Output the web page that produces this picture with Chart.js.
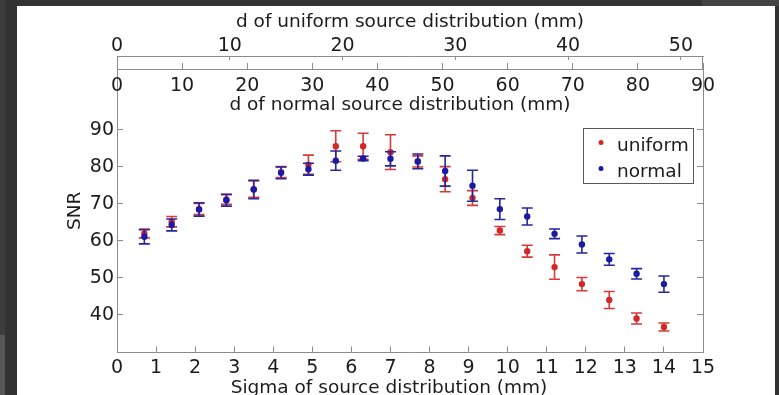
<!DOCTYPE html>
<html>
<head>
<meta charset="utf-8">
<script src="https://cdn.jsdelivr.net/npm/chart.js@4.4.0/dist/chart.umd.min.js"></script>
<style>
  html, body { margin: 0; padding: 0; width: 779px; height: 395px; overflow: hidden; background: #323232; }
  .strip { position: absolute; }
  #frame { position: absolute; left: 17px; top: 6px; width: 758px; height: 389px; background: #fff; }
</style>
</head>
<body>
<div class="strip" style="left:0;top:0;width:5px;height:395px;background:#3c3c3c"></div>
<div class="strip" style="left:0;top:335px;width:5px;height:60px;background:#575757"></div>
<div class="strip" style="left:702px;top:0;width:77px;height:6px;background:#444"></div>
<div id="frame"><canvas id="myChart" width="758" height="389"></canvas></div>
<script>
// sigma of source distribution (mm)
var sigma = [0.7, 1.4, 2.1, 2.8, 3.5, 4.2, 4.9, 5.6, 6.3, 7.0,
             7.7, 8.4, 9.1, 9.8, 10.5, 11.2, 11.9, 12.6, 13.3, 14.0];
var snrUniform = [62.0, 65.2, 68.6, 71.2, 74.0, 78.6, 80.6, 85.6, 85.6, 84.0,
                  81.5, 76.7, 71.6, 62.8, 57.2, 52.9, 48.3, 44.0, 39.0, 36.7];
var errUniform = [1.2, 1.4, 1.5, 1.3, 2.2, 1.5, 2.6, 4.2, 3.5, 4.7,
                  1.5, 3.4, 2.0, 1.1, 1.6, 3.3, 1.8, 2.3, 1.5, 1.1];
var snrNormal = [61.1, 64.3, 68.5, 71.0, 73.9, 78.4, 79.4, 81.7, 82.3, 82.2,
                 81.5, 78.9, 74.9, 68.6, 66.6, 61.9, 59.0, 55.0, 51.1, 48.3];
var errNormal = [1.9, 1.6, 1.8, 1.6, 2.5, 1.6, 1.6, 2.6, 0.6, 1.9,
                 2.0, 4.1, 4.2, 2.8, 2.3, 1.3, 2.3, 1.6, 1.4, 2.2];

var sigmaTicks = [0, 1, 2, 3, 4, 5, 6, 7, 8, 9, 10, 11, 12, 13, 14, 15];
var snrTicks = [40, 50, 60, 70, 80, 90];
var uniformTicks = [0, 10, 20, 30, 40, 50];
var normalTicks = [0, 10, 20, 30, 40, 50, 60, 70, 80, 90];

var axisGray = '#8c8c8c';
var textColor = '#1c1c1c';
var tickFont = { family: 'DejaVu Sans', size: 19, lineHeight: 1.2 };
var titleFont = { family: 'DejaVu Sans', size: 18.5, lineHeight: 1.2 };

function toPoints(ys) {
    return sigma.map(function (s, i) { return { x: s, y: ys[i] }; });
}
function fixTicks(list) {
    return function (scale) { scale.ticks = list.map(function (v) { return { value: v }; }); };
}

// error bars drawn just before each dataset's points
var errorBars = {
    id: 'errorBars',
    beforeDatasetDraw: function (chart, args) {
        var ds = chart.data.datasets[args.index];
        var xs = chart.scales.x, ys = chart.scales.y, ctx = chart.ctx;
        ctx.save();
        ctx.strokeStyle = ds.errorColor;
        ctx.lineWidth = 1.6;
        ds.data.forEach(function (p, i) {
            var px = xs.getPixelForValue(p.x);
            var top = ys.getPixelForValue(p.y + ds.errors[i]);
            var bot = ys.getPixelForValue(p.y - ds.errors[i]);
            ctx.beginPath();
            ctx.moveTo(px, top); ctx.lineTo(px, bot);
            ctx.moveTo(px - 5.5, top); ctx.lineTo(px + 5.5, top);
            ctx.moveTo(px - 5.5, bot); ctx.lineTo(px + 5.5, bot);
            ctx.stroke();
        });
        ctx.restore();
    }
};

// titles that matlab put off-centre / inside, box edges, legend
var extras = {
    id: 'extras',
    afterDraw: function (chart) {
        var ctx = chart.ctx, a = chart.chartArea, u = chart.scales.uniform;
        var mid = (a.left + a.right) / 2;
        ctx.save();
        ctx.strokeStyle = axisGray;
        ctx.lineWidth = 1;
        ctx.beginPath();
        ctx.moveTo(Math.round(a.left) + 0.5, u.bottom); ctx.lineTo(Math.round(a.left) + 0.5, a.top);
        ctx.moveTo(Math.round(a.right) - 0.5, u.bottom); ctx.lineTo(Math.round(a.right) - 0.5, a.top);
        ctx.stroke();

        ctx.fillStyle = textColor;
        ctx.font = '18.5px "DejaVu Sans"';
        ctx.textAlign = 'center';
        ctx.textBaseline = 'alphabetic';
        ctx.fillText('d of normal source distribution (mm)', mid - 10, a.top + 41);
        ctx.fillText('Sigma of source distribution (mm)', mid - 21, a.bottom + 40.5);

        // legend
        var lx = a.right - 120, ly = a.top + 59, lw = 110, lh = 55;
        ctx.strokeStyle = '#5a5a5a';
        ctx.fillStyle = '#fff';
        ctx.fillRect(lx, ly, lw, lh);
        ctx.strokeRect(lx + 0.5, ly + 0.5, lw, lh);
        chart.data.datasets.forEach(function (ds, i) {
            var cy = ly + 14.5 + i * 26;
            ctx.fillStyle = ds.backgroundColor;
            ctx.beginPath();
            ctx.arc(lx + 18, cy, 2.5, 0, Math.PI * 2);
            ctx.fill();
            ctx.fillStyle = textColor;
            ctx.textAlign = 'left';
            ctx.fillText(ds.label, lx + 34, cy + 8.3);
        });
        ctx.restore();
    }
};

var ctx = document.getElementById('myChart').getContext('2d');
var chart = new Chart(ctx, {
    type: 'scatter',
    data: {
        datasets: [{
            label: 'uniform',
            data: toPoints(snrUniform),
            errors: errUniform,
            errorColor: '#d63a3a',
            backgroundColor: '#d42828',
            borderWidth: 0,
            pointRadius: 3.2,
            order: 1
        }, {
            label: 'normal',
            data: toPoints(snrNormal),
            errors: errNormal,
            errorColor: '#2626a0',
            backgroundColor: '#1a1aa6',
            borderWidth: 0,
            pointRadius: 3.2,
            order: 0
        }]
    },
    options: {
        responsive: false,
        animation: false,
        devicePixelRatio: 1,
        layout: { padding: { left: 0, top: 0, right: 72, bottom: 0 } },
        plugins: { legend: { display: false }, tooltip: { enabled: false } },
        scales: {
            x: {
                type: 'linear', position: 'bottom', min: 0, max: 15,
                afterBuildTicks: fixTicks(sigmaTicks),
                afterFit: function (s) { s.height = 42.5; },
                grid: { drawOnChartArea: false, tickLength: -6, color: axisGray },
                border: { color: axisGray },
                ticks: { font: tickFont, color: textColor, padding: 10, maxRotation: 0, autoSkip: false }
            },
            y: {
                type: 'linear', position: 'left', min: 29.8, max: 106.5,
                afterBuildTicks: fixTicks(snrTicks),
                afterFit: function (s) { s.width = 100; },
                grid: { drawOnChartArea: false, tickLength: -6, color: axisGray },
                border: { color: axisGray },
                ticks: { font: tickFont, color: textColor, padding: 9 },
                title: { display: true, text: 'SNR', font: titleFont, color: textColor, padding: { top: 47.5, bottom: 0 } }
            },
            y2: {
                type: 'linear', position: 'right', min: 29.8, max: 106.5,
                afterBuildTicks: fixTicks(snrTicks),
                afterFit: function (s) { s.width = 0; },
                grid: { drawOnChartArea: false, tickLength: -6, color: axisGray },
                border: { color: axisGray },
                ticks: { display: false }
            },
            uniform: {
                type: 'linear', position: 'top', weight: 2, min: 0, max: 51.96,
                afterBuildTicks: fixTicks(uniformTicks),
                afterFit: function (s) { s.height = 50; },
                grid: { drawOnChartArea: false, tickLength: -4, color: axisGray },
                border: { color: axisGray },
                ticks: { font: tickFont, color: textColor, padding: 2.5, maxRotation: 0, autoSkip: false },
                title: { display: true, text: 'd of uniform source distribution (mm)', font: titleFont, color: textColor, padding: { top: 5, bottom: 0 } }
            },
            normal: {
                type: 'linear', position: 'top', weight: 1, min: 0, max: 90,
                afterBuildTicks: fixTicks(normalTicks),
                afterFit: function (s) { s.height = 13; },
                grid: { drawOnChartArea: false, tickLength: 6, color: axisGray },
                border: { color: axisGray },
                ticks: { font: tickFont, color: textColor, padding: 5.5, mirror: true, maxRotation: 0, autoSkip: false }
            }
        }
    },
    plugins: [errorBars, extras]
});
</script>
</body>
</html>
